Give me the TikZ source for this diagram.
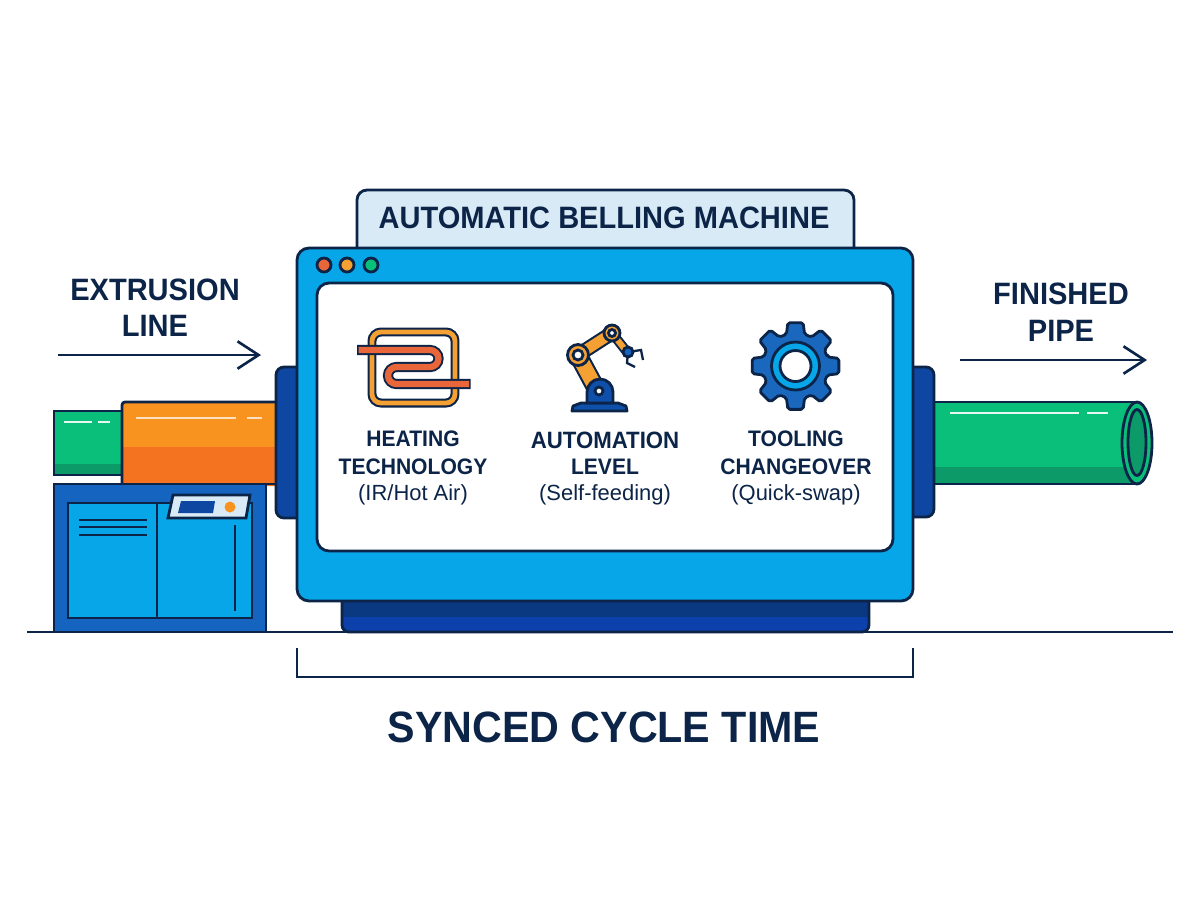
\documentclass[tikz,border=0pt]{standalone}
\usepackage{fontspec}
\setmainfont{Liberation Sans}[BoldFeatures={FakeStretch=0.94}]
\usetikzlibrary{arrows.meta}
\definecolor{ink}{HTML}{0B2447}
\definecolor{sky}{HTML}{07A6E8}
\definecolor{royal}{HTML}{0D47A1}
\definecolor{steel}{HTML}{1565C0}
\definecolor{pale}{HTML}{D8EAF6}
\definecolor{amber}{HTML}{F7931E}
\definecolor{rust}{HTML}{F47321}
\definecolor{leaf}{HTML}{0ABF7A}
\definecolor{moss}{HTML}{0C9A68}
\definecolor{coilred}{HTML}{E9653A}
\definecolor{armor}{HTML}{F5A033}
\definecolor{gearblue}{HTML}{1A68BE}
\newdimen\pxsize
\newcommand{\pxfont}[1]{\pxsize=#1pt \pxsize=0.2835\pxsize \fontsize{\pxsize}{1.2\pxsize}\selectfont}
\tikzset{
  x=0.01cm, y=-0.01cm,
  outline/.style={draw=ink, line width=0.8pt},
  thin rule/.style={draw=ink, line width=0.65pt},
  flow/.style={draw=ink, line width=0.65pt, -{Straight Barb[length=6pt,width=7.8pt,line width=0.75pt]}},
  gloss/.style={draw=white, line width=0.7pt, opacity=0.9},
  caption/.style={text=ink, align=center, inner sep=0pt},
  note/.style={text=ink, align=center, inner sep=0pt},
}
\begin{document}
\begin{tikzpicture}
\useasboundingbox (0,0) rectangle (1200,896);

% incoming pipe and extruder barrel
\fill[leaf] (54,411) rectangle (124,475);
\fill[moss] (54,464) rectangle (124,475);
\draw[outline] (124,411) -- (54,411) -- (54,475) -- (124,475);
\draw[gloss] (64,422) -- (92,422) (98,422) -- (110,422);
\fill[amber,rounded corners=0.03cm] (122,402) rectangle (278,486);
\fill[rust] (122,447) rectangle (278,486);
\draw[outline,rounded corners=0.03cm] (278,402) -- (122,402) -- (122,486);
\draw[outline] (122,484) -- (278,484);
\draw[gloss,draw=white!80!amber] (136,418) -- (236,418) (247,418) -- (262,418);

% control cabinet
\draw[outline,fill=steel] (54,632) -- (54,484) -- (266,484) -- (266,632);
\draw[outline,fill=sky] (68,503) rectangle (252,618);
\draw[thin rule] (157,503) -- (157,618);
\draw[thin rule] (79,520) -- (147,520) (79,527) -- (147,527) (79,535) -- (147,535);
\draw[thin rule] (235,525) -- (235,611);
\draw[outline,fill=pale] (173,495) -- (250,495) -- (246,518) -- (168,518) -- cycle;
\fill[royal] (181,501) -- (215,501) -- (213,513) -- (178,513) -- cycle;
\fill[amber] (230,507) circle (5.5);

% finished pipe
\fill[leaf] (930,402) rectangle (1137,484);
\fill[moss] (930,467) rectangle (1137,484);
\draw[outline] (930,402) -- (1137,402) (930,484) -- (1137,484);
\draw[gloss] (950,413) -- (1079,413) (1087,413) -- (1108,413);
\draw[outline,fill=leaf] (1137,443) ellipse (15 and 41);
\draw[outline,fill=moss] (1137,442.5) ellipse (9 and 33);

% clamps on both sides of the machine
\draw[outline,fill=royal,rounded corners=0.08cm] (276,367) rectangle (320,518);
\draw[outline,fill=royal,rounded corners=0.08cm] (890,367) rectangle (934,517);

% machine title tab
\draw[outline,fill=pale,rounded corners=0.1cm] (357,260) -- (357,190) -- (854,190) -- (854,260);

% machine base
\fill[royal!90!blue,rounded corners=0.07cm] (342,590) rectangle (869,632);
\begin{scope}
  \clip (342,590) rectangle (869,616);
  \fill[royal!80!black] (342,590) rectangle (869,632);
\end{scope}
\draw[outline,rounded corners=0.07cm] (342,590) -- (342,632) -- (869,632) -- (869,590);

% machine body and window
\draw[outline,fill=sky,rounded corners=0.12cm] (297,248) rectangle (913,601);
\draw[outline,fill=white,rounded corners=0.12cm] (317,283) rectangle (893,551);
\draw[outline,fill=coilred] (324,265) circle (7);
\draw[outline,fill=armor] (347,265) circle (7);
\draw[outline,fill=leaf] (371,265) circle (7);

% floor line
\draw[thin rule] (27,632) -- (1173,632);

% heating coil icon
\draw[draw=ink,line width=0.6pt,double=armor,double distance=1.35pt,rounded corners=0.09cm]
  (372,332) rectangle (455,403);
\newcommand{\coilpath}[2]{(#1,350) -- (430,350) arc[start angle=90,end angle=-90,radius=0.085cm]
  -- (396.5,367) arc[start angle=90,end angle=270,radius=0.085cm] -- (#2,384)}
\draw[draw=ink,line width=2.9pt] \coilpath{357}{470.5};
\draw[draw=coilred,line width=1.8pt] \coilpath{358.5}{469};

% robot arm icon
\draw[outline,fill=royal!70!steel,line join=round] (572,411) -- (573,406) -- (581,403) -- (618,403) -- (626,406) -- (627,411) -- cycle;
\draw[draw=ink,line width=5.4pt] (578,355) -- (598,392);
\draw[draw=armor,line width=4.2pt] (578,355) -- (598,392);
\draw[draw=ink,line width=4.2pt] (578,355) -- (612,333);
\draw[draw=armor,line width=3pt] (578,355) -- (612,333);
\draw[draw=ink,line width=2.8pt] (612,333) -- (627,352);
\draw[draw=armor,line width=1.7pt] (612,333) -- (627,352);
\draw[outline,fill=royal!70!steel] (587,403) -- (587,392) arc[start angle=180,end angle=0,radius=0.13cm] -- (613,403) -- cycle;
\draw[outline,fill=white] (599,391) circle (4);
\draw[outline,fill=armor] (578,355) circle (10.5);
\draw[outline,fill=white] (578,355) circle (5);
\draw[outline,fill=armor] (612,333) circle (8);
\draw[outline,fill=white] (612,333) circle (3.5);
\draw[thin rule] (628,352) -- (641,350) -- (643,360);
\draw[thin rule] (628,352) -- (627,363) -- (635,367);
\draw[outline,fill=steel] (628,352) circle (5);

% gear icon
\begin{scope}[shift={(795.5,366)}]
  \draw[outline,fill=gearblue,line join=round,rounded corners=0.02cm]
    (-16:33)
    \foreach \a in {0,45,...,315} {
      -- ({\a-16}:33) -- ({\a-10}:44) -- ({\a+10}:44) -- ({\a+16}:33)
    } -- cycle;
  \draw[outline,fill=sky] (0,0) circle (24);
  \draw[outline,fill=white] (0,0) circle (15.5);
\end{scope}

% flow arrows and bracket
\coordinate (inStart) at (58,355);
\coordinate (inEnd) at (261,355);
\coordinate (outStart) at (960,360);
\coordinate (outEnd) at (1147,360);
\draw[flow] (inStart) -- (inEnd);
\draw[flow] (outStart) -- (outEnd);
\coordinate (spanLeft) at (297,648);
\coordinate (spanRight) at (913,648);
\draw[thin rule] (spanLeft) |- (605,677) -| (spanRight);

% labels
\node[caption,font=\bfseries\pxfont{31}] (title) at (604,218) {AUTOMATIC BELLING MACHINE};
\node[caption,font=\bfseries\pxfont{31}] (extrusionA) at (155,290) {EXTRUSION};
\node[caption,font=\bfseries\pxfont{31}] (extrusionB) at (155,326) {LINE};
\node[caption,font=\bfseries\pxfont{31}] (finishedA) at (1061,294) {FINISHED};
\node[caption,font=\bfseries\pxfont{31}] (finishedB) at (1061,331) {PIPE};
\node[caption,font=\bfseries\pxfont{22.5}] (heatA) at (413,439) {HEATING};
\node[caption,font=\bfseries\pxfont{22.5}] (heatB) at (413,467) {TECHNOLOGY};
\node[note,font=\pxfont{22}] (heatC) at (413,495) {(IR/Hot Air)};
\node[caption,font=\bfseries\pxfont{23.7}] (autoA) at (605,440) {AUTOMATION};
\node[caption,font=\bfseries\pxfont{22.5}] (autoB) at (605,467) {LEVEL};
\node[note,font=\pxfont{22}] (autoC) at (605,495) {(Self-feeding)};
\node[caption,font=\bfseries\pxfont{22.5}] (toolA) at (796,439) {TOOLING};
\node[caption,font=\bfseries\pxfont{22.5}] (toolB) at (796,467) {CHANGEOVER};
\node[note,font=\pxfont{22}] (toolC) at (796,495) {(Quick-swap)};
\node[caption,font=\bfseries\pxfont{44}] (cycle) at (604,727) {SYNCED CYCLE TIME};
\end{tikzpicture}
\end{document}
